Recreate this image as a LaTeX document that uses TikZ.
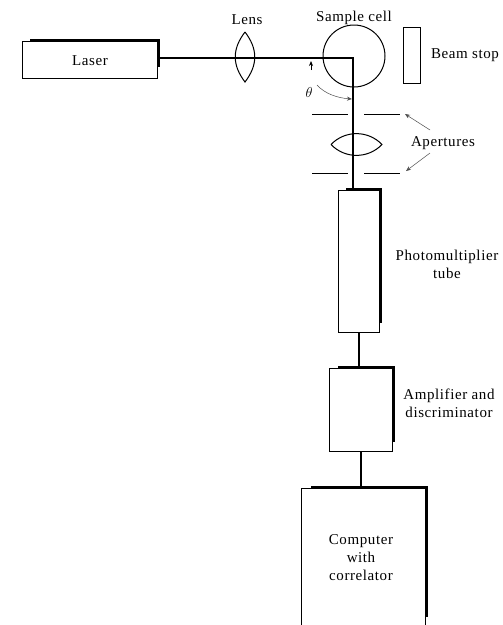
\documentclass[tikz,border=0pt]{standalone}
\usepackage{fontspec}
\setmainfont[LetterSpace=4]{Liberation Serif}
\usetikzlibrary{arrows.meta}
\tikzset{
  box/.style={draw,line width=0.8pt,minimum width=#1,inner sep=0pt,outer sep=0pt},
  heavy/.style={line width=3pt,line cap=butt,line join=miter},
  conn/.style={line width=2pt},
  beam/.style={line width=1.3pt},
  thinline/.style={line width=1pt},
  pointer/.style={line width=0.5pt,black!70,-{Stealth[length=5pt,width=4pt]}},
  lbl/.style={font=\fontsize{15}{18}\selectfont,align=center,inner sep=0pt}
}
\begin{document}
\begin{tikzpicture}[x=1pt,y=-1pt]
\useasboundingbox (0,0) rectangle (503,625);
% boxes
\node[box=135pt,minimum height=37pt] (laser) at (89.5,59.5) {};
\node[box=41pt,minimum height=142pt] (pmt) at (358.5,261) {};
\node[box=63pt,minimum height=83pt] (amp) at (360.5,409.5) {};
\node[minimum width=124pt,minimum height=137pt,inner sep=0pt,outer sep=0pt] (comp) at (363,556.5) {};
\draw[line width=0.8pt] (comp.south west) -- (comp.north west) -- (comp.north east) -- (comp.south east);
\node[box=17pt,minimum height=56pt] (stop) at (411.5,55) {};
% heavy edges
\draw[heavy] ([xshift=8pt,yshift=1pt]laser.north west) -- ([yshift=1pt,xshift=1pt]laser.north east) -- ([xshift=1pt,yshift=11pt]laser.south east);
\draw[heavy] ([xshift=8pt,yshift=1pt]pmt.north west) -- ([yshift=1pt,xshift=1.5pt]pmt.north east) -- ([xshift=1.5pt,yshift=9pt]pmt.south east);
\draw[heavy] ([xshift=9pt,yshift=1pt]amp.north west) -- ([yshift=1pt,xshift=1pt]amp.north east) -- ([xshift=1pt,yshift=9pt]amp.south east);
\draw[heavy] ([xshift=10pt,yshift=1pt]comp.north west) -- ([yshift=1pt,xshift=1.5pt]comp.north east) -- ([xshift=1.5pt,yshift=8pt]comp.south east);
% sample cell
\node[draw,circle,line width=1pt,minimum size=62pt,inner sep=0pt] (cell) at (354,56) {};
% beam
\coordinate (corner) at (353,58);
\draw[beam] (laser.east |- corner) -- (corner) -- (corner |- pmt.north);
% first lens
\coordinate (lensT) at (245,32);
\coordinate (lensB) at (245,82);
\draw[thinline] (lensT) .. controls (232,49) and (232,65) .. (lensB) .. controls (258,65) and (258,49) .. (lensT);
% second lens
\coordinate (lens2L) at (331,144.5);
\coordinate (lens2R) at (382,144.5);
\draw[thinline] (lens2L) .. controls (345,130) and (368,130) .. (lens2R) .. controls (368,159) and (345,159) .. (lens2L);
% apertures
\coordinate (a1) at (312,114); \coordinate (a2) at (348,114);
\coordinate (a3) at (364,114); \coordinate (a4) at (400,114);
\coordinate (b1) at (312,173); \coordinate (b2) at (348,173);
\coordinate (b3) at (364,173); \coordinate (b4) at (400,173);
\draw[thinline] (a1) -- (a2) (a3) -- (a4) (b1) -- (b2) (b3) -- (b4);
% connectors
\draw[conn] (pmt.south) -- (pmt.south |- amp.north);
\draw[conn] (amp.south) -- (amp.south |- comp.north);
% angle
\coordinate (t1) at (311,70); \coordinate (t2) at (311,61);
\coordinate (t3) at (317,85); \coordinate (t4) at (352,99);
\draw[pointer,line width=0.8pt,black] (t1) -- (t2);
\draw[pointer] (t3) .. controls (325,94) and (338,98) .. (t4);
\node[lbl] (theta) at (309,92) {$\theta$};
% labels
\node[lbl] (tlaser) at (90,61) {Laser};
\node[lbl] (tlens) at (247,20) {Lens};
\node[lbl] (tcell) at (354,18) {Sample cell};
\node[lbl] (tstop) at (465,55.5) {Beam stop};
\node[lbl] (tap) at (443,143.5) {Apertures};
\node[lbl] (tpmt) at (447,264.5) {Photomultiplier\\tube};
\node[lbl] (tamp) at (449,403.5) {Amplifier and\\discriminator};
\node[lbl] (tcomp) at (361,558) {Computer\\with\\correlator};
% aperture pointers
\coordinate (p1) at (430,130); \coordinate (p2) at (405,114);
\coordinate (q1) at (430,153); \coordinate (q2) at (406,171);
\draw[pointer] (p1) -- (p2);
\draw[pointer] (q1) -- (q2);
\end{tikzpicture}
\end{document}
